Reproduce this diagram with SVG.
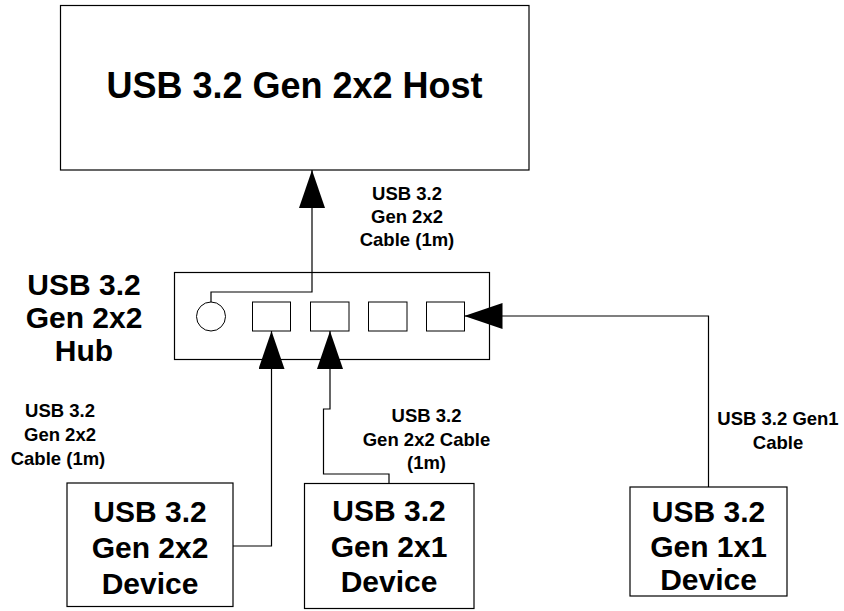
<svg xmlns="http://www.w3.org/2000/svg" width="844" height="611" viewBox="0 0 844 611">
<style>
.box{fill:#fff;stroke:#000;stroke-width:1.2}
.port{fill:#fff;stroke:#000;stroke-width:1}
.big{font-family:"Liberation Sans",Arial,sans-serif;font-weight:bold;font-size:30px;text-anchor:middle;fill:#000}
.host{font-family:"Liberation Sans",Arial,sans-serif;font-weight:bold;font-size:36px;text-anchor:middle;fill:#000}
.small{font-family:"Liberation Sans",Arial,sans-serif;font-weight:bold;font-size:18.5px;text-anchor:middle;fill:#000}
.conn{fill:none;stroke:#000;stroke-width:1.2;marker-end:url(#arrow)}
</style>
<defs>
<marker id="arrow" markerUnits="userSpaceOnUse" markerWidth="38" markerHeight="26" refX="38" refY="13" orient="auto" viewBox="0 0 38 26">
<path d="M0,0 L38,13 L0,26 Z" fill="#000"/>
</marker>
</defs>

<g id="host">
<rect class="box" x="60.5" y="5.5" width="468.5" height="164.5"/>
<text class="host" x="294.5" y="98">USB 3.2 Gen 2x2 Host</text>
</g>

<g id="hub">
<rect class="box" x="174.5" y="272.5" width="315" height="87"/>
<circle class="port" cx="211" cy="316.5" r="14.5"/>
<rect class="port" x="252.5" y="302" width="38" height="29"/>
<rect class="port" x="310.5" y="302" width="38.5" height="29"/>
<rect class="port" x="368.5" y="302" width="38.5" height="29"/>
<rect class="port" x="426.5" y="302" width="38" height="29"/>
</g>

<g id="hub-label">
<text class="big" x="84" y="295">USB 3.2</text>
<text class="big" x="84" y="328">Gen 2x2</text>
<text class="big" x="84" y="361">Hub</text>
</g>

<g id="dev-2x2">
<rect class="box" x="67" y="483" width="166" height="123.5"/>
<text class="big" x="150" y="522">USB 3.2</text>
<text class="big" x="150" y="558">Gen 2x2</text>
<text class="big" x="150" y="594">Device</text>
</g>

<g id="dev-2x1">
<rect class="box" x="304.5" y="483.5" width="169.5" height="125"/>
<text class="big" x="389" y="521">USB 3.2</text>
<text class="big" x="389" y="557">Gen 2x1</text>
<text class="big" x="389" y="592">Device</text>
</g>

<g id="dev-1x1">
<rect class="box" x="630" y="487" width="157" height="109"/>
<text class="big" x="708.5" y="522">USB 3.2</text>
<text class="big" x="708.5" y="557">Gen 1x1</text>
<text class="big" x="708.5" y="590">Device</text>
</g>

<g id="connectors">
<path class="conn" d="M211,302 V292 H312 V170"/>
<path class="conn" d="M233,546 H271.5 V331"/>
<path class="conn" d="M389,483.5 V474 H323.5 V409 H330 V331"/>
<path class="conn" d="M708.5,487 V316 H464.5"/>
</g>

<g id="labels">
<text class="small" x="407" y="200">USB 3.2</text>
<text class="small" x="407" y="223">Gen 2x2</text>
<text class="small" x="407" y="246">Cable (1m)</text>
<text class="small" x="60" y="417">USB 3.2</text>
<text class="small" x="60" y="441">Gen 2x2</text>
<text class="small" x="58" y="465">Cable (1m)</text>
<text class="small" x="426.5" y="422">USB 3.2</text>
<text class="small" x="426.5" y="446">Gen 2x2 Cable</text>
<text class="small" x="426.5" y="469">(1m)</text>
<text class="small" x="778" y="425">USB 3.2 Gen1</text>
<text class="small" x="778" y="449">Cable</text>
</g>
</svg>
